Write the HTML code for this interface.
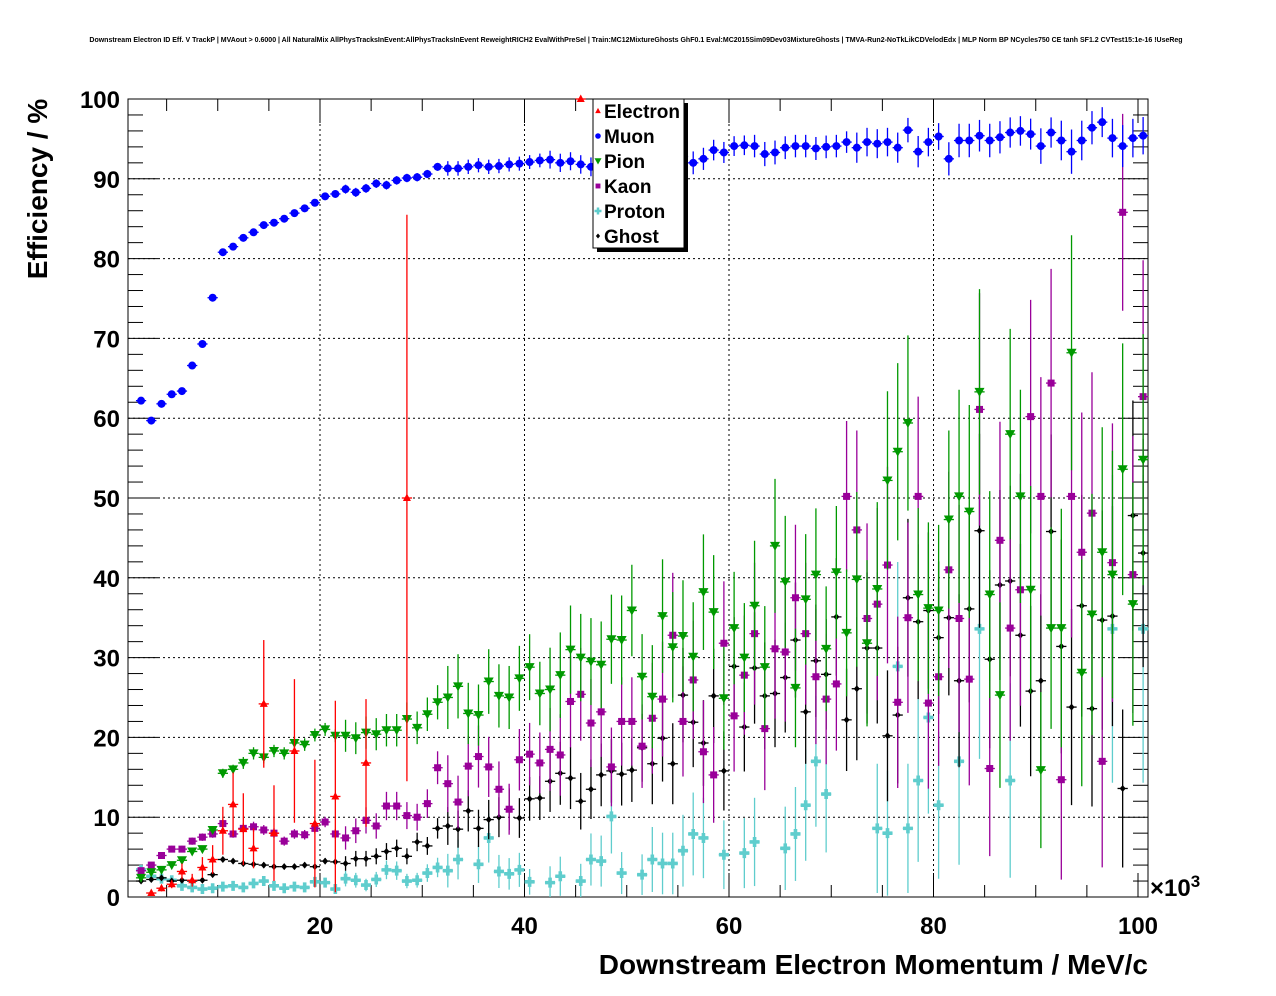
<!DOCTYPE html>
<html><head><meta charset="utf-8"><style>
html,body{margin:0;padding:0;background:#fff;}
svg{display:block;font-family:"Liberation Sans",Arial,sans-serif;}
</style></head><body>
<svg id="chart" width="1276" height="996" viewBox="0 0 1276 996" xmlns="http://www.w3.org/2000/svg">
<rect x="0" y="0" width="1276" height="996" fill="#fff"/>
<text x="636" y="42" font-size="7" font-weight="bold" text-anchor="middle">Downstream Electron ID Eff. V TrackP | MVAout &gt; 0.6000 | All NaturalMix AllPhysTracksInEvent:AllPhysTracksInEvent ReweightRICH2 EvalWithPreSel | Train:MC12MixtureGhosts GhF0.1 Eval:MC2015Sim09Dev03MixtureGhosts | TMVA-Run2-NoTkLikCDVelodEdx | MLP Norm BP NCycles750 CE tanh SF1.2 CVTest15:1e-16 !UseReg</text>
<g id="grid"></g>
<g id="axes"></g>
<g id="series"></g>
<text transform="translate(47,189) rotate(-90)" font-size="28" font-weight="bold" text-anchor="middle">Efficiency / %</text>
<text x="1148" y="974" font-size="28" font-weight="bold" text-anchor="end">Downstream Electron Momentum / MeV/c</text>
<text x="1150" y="896" font-size="24" font-weight="bold">×10<tspan font-size="17" dy="-9">3</tspan></text>
<g id="legend">
<rect x="597" y="103" width="91" height="149" fill="#000"/>
<rect x="593" y="99" width="91" height="149" fill="#fff" stroke="#000" stroke-width="1"/>
</g>
</svg>
<script>
const binStart = 2.5;
const yTicks = [0,10,20,30,40,50,60,70,80,90,100];
const xTicks = [20,40,60,80,100];
const muon = [62.2,59.7,61.8,63.0,63.4,66.6,69.3,75.1,80.8,81.5,82.6,83.3,84.2,84.5,85.0,85.7,86.3,87.0,87.8,88.1,88.7,88.3,88.8,89.4,89.2,89.8,90.1,90.2,90.6,91.5,91.3,91.3,91.5,91.7,91.5,91.6,91.8,91.9,92.1,92.3,92.4,92.0,92.2,91.8,91.5,93.5,93.0,93.2,93.4,93.6,93.5,93.8,93.2,92.8,92.0,92.5,93.6,93.3,94.1,94.2,94.1,93.1,93.3,93.9,94.1,94.1,93.8,94.0,94.1,94.6,93.9,94.6,94.4,94.6,93.9,96.1,93.4,94.6,95.3,92.5,94.8,94.8,95.4,94.8,95.2,95.8,96.0,95.6,94.1,95.8,94.8,93.4,94.8,96.4,97.1,95.1,94.1,95.1,95.4];
const pion = [2.4,3.1,3.4,4.0,4.6,5.7,6.0,8.4,15.5,16.0,16.8,18.0,17.5,18.3,18.0,19.3,19.1,20.3,21.0,20.2,20.2,19.9,20.6,20.4,20.9,20.9,22.3,21.2,22.9,24.4,25.0,26.4,23.0,22.8,27.0,25.2,25.0,27.4,28.8,25.5,26.0,27.8,31.0,30.0,29.5,29.1,32.3,32.2,35.9,27.6,25.1,35.2,31.3,32.7,30.1,38.2,35.7,24.9,33.7,30.0,36.5,28.8,44.0,39.5,26.2,37.3,40.4,31.1,40.7,33.1,39.8,31.8,38.6,52.2,55.8,59.4,37.9,36.2,35.9,47.3,50.2,48.3,63.3,37.9,25.3,58.0,50.2,38.5,15.9,33.7,33.7,68.2,28.1,35.4,43.2,40.4,53.6,36.7,54.8];
const kaon = [3.3,4.0,5.2,6.0,6.0,7.0,7.5,7.9,9.2,7.9,8.6,8.8,8.4,8.0,7.0,7.9,7.8,8.6,9.4,7.9,7.4,8.3,9.6,8.9,11.4,11.4,10.2,10.0,11.7,16.2,14.2,11.9,16.4,17.6,16.3,13.5,11.0,17.2,17.9,16.8,18.5,17.8,24.5,25.4,21.8,23.2,16.3,22.0,22.0,18.9,22.4,24.8,32.8,22.0,27.2,18.2,15.3,31.8,22.7,27.8,33.0,21.1,31.1,30.7,37.5,33.0,27.6,24.8,26.7,50.2,46.0,34.9,36.7,41.6,24.4,35.0,50.2,24.3,27.6,41.0,34.9,27.3,61.1,16.1,44.7,33.7,38.5,60.2,50.2,64.4,14.7,50.2,43.2,48.1,17.0,41.9,85.8,40.4,62.7];
const ghost = [2.0,2.2,2.4,2.0,2.1,2.0,2.1,2.8,4.7,4.5,4.2,4.1,4.0,3.8,3.8,3.8,4.0,3.8,4.5,4.4,4.2,4.8,4.8,5.1,5.7,6.1,5.1,6.9,6.4,8.6,8.9,8.5,10.8,8.6,9.7,10.0,11.0,9.9,12.3,12.4,14.5,15.5,14.9,12.0,13.5,15.3,15.8,15.4,15.9,18.7,16.7,19.9,16.7,25.3,21.9,19.3,25.2,15.8,28.9,21.3,28.7,25.2,25.5,27.5,32.2,23.2,29.6,27.9,35.1,22.2,26.1,31.2,31.2,20.2,22.8,37.5,34.5,35.9,32.5,35.0,27.1,36.1,45.9,29.8,39.1,39.6,32.8,25.8,27.1,45.8,31.4,23.8,36.5,23.6,34.7,35.2,13.6,47.8,43.1];
const proton = [3.4,2.6,2.3,2.1,1.4,1.2,1.0,1.1,1.3,1.4,1.2,1.7,2.0,1.4,1.1,1.3,1.2,1.9,1.8,1.0,2.3,2.1,1.5,2.2,3.4,3.3,2.0,2.1,3.0,3.7,3.3,4.7,null,4.1,7.4,3.2,2.9,3.4,1.9,null,1.8,2.6,null,2.0,4.7,4.5,10.1,3.0,null,2.8,4.7,4.2,4.2,5.8,7.9,7.4,null,5.3,null,5.5,6.9,null,null,6.1,7.9,11.5,17.0,12.9,null,null,null,null,8.6,8.0,28.9,8.6,14.6,22.5,11.5,null,17.0,null,33.6,null,null,14.6,null,null,null,null,null,null,null,null,null,33.6,null,null,33.6];
const electron = [null,0.5,1.1,1.6,3.2,2.1,3.7,4.7,8.3,11.6,8.5,6.1,24.2,8.0,null,18.3,null,9.2,null,12.6,null,null,16.8,null,null,null,50.0,null,null,null,null,null,null,null,null,null,null,null,null,null,null,null,null,100.0];
const electronErr = [0,0.3,0.4,0.5,1.0,0.8,1.3,1.8,3,4,4.5,2.5,8,6,0,9,0,8,0,12,0,0,8,0,0,0,35.5,0,0,0,0,0,0,0,0,0,0,0,0,0,0,0,0,0];
const blockEntries = [4000,2500,400,120,70,45,35,20,14,10];
const speciesWeight = {muon:8, pion:1, kaon:0.8, ghost:1.2, proton:0.6};

const L=128,R=1148,T=99,B=897;
const X0=115.5, XS=10.225;
function xPos(v){return X0+v*XS;}
function yPos(v){return B-(v/100)*(B-T);}
function binX(i){return binStart+i;}

const NS="http://www.w3.org/2000/svg";
function mk(tag,attrs,parent){const e=document.createElementNS(NS,tag);for(const k in attrs)e.setAttribute(k,attrs[k]);parent.appendChild(e);return e;}
const grid=document.getElementById('grid'), axes=document.getElementById('axes'), ser=document.getElementById('series'), leg=document.getElementById('legend');

yTicks.forEach(v=>{
  if(v>0&&v<100){const g=mk('line',{x1:L,x2:R,y1:yPos(v),y2:yPos(v),stroke:'#000','stroke-width':1,'stroke-dasharray':'2,3'},grid);
  
  }
  const t=mk('text',{x:120,y:yPos(v)+9,'font-size':24,'font-weight':'bold','text-anchor':'end'},axes);
  t.textContent=v;
  
  
});
xTicks.forEach(v=>{
  if(v<100){const g=mk('line',{x1:xPos(v),x2:xPos(v),y1:T,y2:B,stroke:'#000','stroke-width':1,'stroke-dasharray':'2,3'},grid);
  
  }
  const t=mk('text',{x:xPos(v),y:934,'font-size':24,'font-weight':'bold','text-anchor':'middle'},axes);
  t.textContent=v;
  
  
});
for(let v=0;v<=100;v+=2){const maj=v%10===0;const len=maj?30:15;
  mk('line',{x1:L,x2:L+len,y1:yPos(v),y2:yPos(v),stroke:'#000','stroke-width':1},axes);
  mk('line',{x1:R,x2:R-len,y1:yPos(v),y2:yPos(v),stroke:'#000','stroke-width':1},axes);}
for(let v=5;v<=100;v+=5){const maj=v%20===0;const len=maj?24:12;
  mk('line',{x1:xPos(v),x2:xPos(v),y1:B,y2:B-len,stroke:'#000','stroke-width':1},axes);
  mk('line',{x1:xPos(v),x2:xPos(v),y1:T,y2:T+len,stroke:'#000','stroke-width':1},axes);}
const frame=mk('rect',{x:L,y:T,width:R-L,height:B-T,fill:'none',stroke:'#000','stroke-width':1},axes);



function marker(kind,cx,cy,color,parent,s){
  s=s||1;
  if(kind==='tri') return mk('polygon',{points:`${cx},${cy-4.5*s} ${cx-4*s},${cy+3*s} ${cx+4*s},${cy+3*s}`,fill:color},parent);
  if(kind==='circ') return mk('circle',{cx:cx,cy:cy,r:4*s,fill:color},parent);
  if(kind==='tdn') return mk('polygon',{points:`${cx-5*s},${cy-4*s} ${cx+5*s},${cy-4*s} ${cx},${cy+5*s}`,fill:color},parent);
  if(kind==='sq') return mk('rect',{x:cx-3.5*s,y:cy-3.5*s,width:7*s,height:7*s,fill:color},parent);
  if(kind==='cross'){return mk('path',{d:`M${cx-5*s} ${cy-1.8*s}h${3.2*s}v${-3.2*s}h${3.6*s}v${3.2*s}h${3.2*s}v${3.6*s}h${-3.2*s}v${3.2*s}h${-3.6*s}v${-3.2*s}h${-3.2*s}z`,fill:color},parent);}
  if(kind==='dia') return mk('polygon',{points:`${cx},${cy-3.5*s} ${cx+3*s},${cy} ${cx},${cy+3.5*s} ${cx-3*s},${cy}`,fill:color},parent);
}
function drawSeries(name,vals,errFn,kind,color){
  const g=mk('g',{},ser);
  
  
  vals.forEach((v,i)=>{
    if(v===null||v===undefined) return;
    const cx=xPos(binX(i)), cy=yPos(v);
    const e=errFn(v,i);
    const lo=Math.max(0,v-e), hi=Math.min(100,v+e);
    mk('line',{x1:cx,x2:cx,y1:yPos(lo),y2:yPos(hi),stroke:color,'stroke-width':1.3},g);
    mk('line',{x1:xPos(binX(i)-0.5),x2:xPos(binX(i)+0.5),y1:cy,y2:cy,stroke:color,'stroke-width':1.3},g);
    const m=marker(kind,cx,cy,color,g);
    
    
  });
}
function binomErr(w){return (v,i)=>{const n=blockEntries[Math.min(9,Math.floor(i/10))]*w;const p=v/100;return 100*Math.sqrt(Math.max(p*(1-p),0.0004)/n);};}

drawSeries('proton',proton,binomErr(speciesWeight.proton),'cross','#5fcdcd');
drawSeries('ghost',ghost,binomErr(speciesWeight.ghost),'dia','#000000');
drawSeries('kaon',kaon,binomErr(speciesWeight.kaon),'sq','#990099');
drawSeries('pion',pion,binomErr(speciesWeight.pion),'tdn','#009900');
drawSeries('electron',electron,(v,i)=>electronErr[i]||0,'tri','#ff0000');
drawSeries('muon',muon,binomErr(speciesWeight.muon),'circ','#0000ff');

leg.parentNode.appendChild(leg);
const legendNames=['Electron','Muon','Pion','Kaon','Proton','Ghost'];
const legendKinds=['tri','circ','tdn','sq','cross','dia'];
const legendColors=['#ff0000','#0000ff','#009900','#990099','#5fcdcd','#000000'];
legendNames.forEach((n,k)=>{
  const y=111+k*25;
  const m=marker(legendKinds[k],598,y,legendColors[k],leg,0.7);
  
  
  const t=mk('text',{x:604,y:y+7,'font-size':19,'font-weight':'bold'},leg);
  t.textContent=n;
  
  
});
</script>
</body></html>
